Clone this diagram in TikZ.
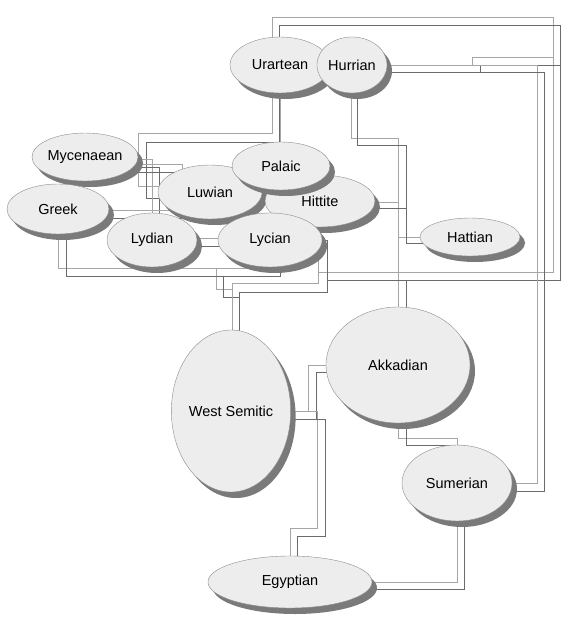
\documentclass[tikz,border=0pt]{standalone}
\usepackage{fontspec}
\setmainfont{Liberation Sans}
\usetikzlibrary{shapes.geometric,shadows}
\pgfdeclarelayer{wires}
\pgfsetlayers{wires,main}

\begin{document}
\begin{tikzpicture}[x=1pt,y=-1pt,
  lang/.style={ellipse,draw=black!45,fill=black!7,inner sep=0pt,
    font=\fontsize{14.5}{17}\selectfont,
    drop shadow={shadow xshift=5pt,shadow yshift=-6pt,fill=black!52,opacity=1}},
  wa/.style={draw=black!35,line width=0.8pt},
  wb/.style={draw=black!58,line width=0.8pt}]
\useasboundingbox (0,0) rectangle (570,630);

% Aegean and western Anatolia
\node[lang,minimum width=104pt,minimum height=48pt] (myc) at (85,157) {Mycenaean};
\node[lang,minimum width=102pt,minimum height=50pt] (grk) at (58,209) {Greek};

% Eastern Anatolia
\node[lang,minimum width=100pt,minimum height=56pt] (urt) at (280,65) {Urartean};
\node[lang,minimum width=70pt,minimum height=56pt] (hur) at (352,65) {Hurrian};

% Anatolian cluster
\node[lang,minimum width=104pt,minimum height=54pt] (luw) at (210,192) {Luwian};
\node[lang,minimum width=110pt,minimum height=52pt] (hit) at (320,201) {Hittite};
\node[lang,minimum width=98pt,minimum height=48pt] (pal) at (281,166) {Palaic};
\node[lang,minimum width=90pt,minimum height=54pt] (lyd) at (152,240) {Lydian};
\node[lang,minimum width=104pt,minimum height=54pt] (lyc) at (270,240) {Lycian};
\node[lang,minimum width=100pt,minimum height=38pt] (hat) at (470,237) {Hattian};

% Near East
\node[lang,minimum width=118pt,minimum height=162pt] (ws) at (231,411) {West Semitic};
\node[lang,minimum width=144pt,minimum height=116pt] (akk) at (398,365) {Akkadian};
\node[lang,minimum width=110pt,minimum height=76pt] (sum) at (457,483) {Sumerian};
\node[lang,minimum width=164pt,minimum height=52pt] (egy) at (290,582) {Egyptian};

\begin{pgfonlayer}{wires}
% Outer loop from Urartean and Hurrian to Lycian
\draw[wa] (urt.center) -| (272,17) -- (553,17) -- (553,272) -- (318,272) |- (lyc.center);
\draw[wb] (urt.center) -| (279,25) -- (560,25) -- (560,280) -- (327,280) |- (lyc.center);
\draw[wa] (hur.center) -| (472,57) -- (553,57) -- (553,272) -- (318,272) |- (lyc.center);
\draw[wb] ([yshift=-7pt]hur.center) -| (480,65) -- (560,65) -- (560,280) -- (327,280) |- (lyc.center);

% Hurrian to Sumerian
\draw[wa] (hur.center) -| (537,483) -- (sum.center);
\draw[wb] ([yshift=-7pt]hur.center) -| (544,491) -- ([yshift=-8pt]sum.center);

% Hurrian down to Akkadian and Hattian
\draw[wa] ([xshift=-1pt]hur.center) |- (398,138) -- (akk.center);
\draw[wb] ([xshift=5pt]hur.center) |- (406,145) |- ([yshift=-6pt]hat.center);

% Hittite to Hattian
\draw[wa] ([yshift=-1pt]hit.center) -| (398,237) -- (hat.center);
\draw[wb] ([yshift=-7pt]hit.center) -| (406,243) -- ([yshift=-6pt]hat.center);

% Akkadian up to Lycian
\draw[wa] (akk.center) |- (318,272) |- (lyc.center);
\draw[wb] ([xshift=8pt]akk.center) |- (327,280) |- (lyc.center);

% Urartean down to Palaic and Luwian
\draw[wa] (urt.center) |- (pal.center);
\draw[wa] ([xshift=-8pt]urt.center) |- (138,133) |- ([yshift=6pt]luw.center);
\draw[wb] ([xshift=-1pt]urt.center) |- (146,142) |- ([yshift=-6pt]luw.center);

% Mycenaean to Lydian
\draw[wa] ([yshift=-2pt]myc.center) -| (lyd.center);
\draw[wb] ([yshift=-10pt]myc.center) -| ([xshift=7pt]lyd.center);

% Greek to Mycenaean
\draw[wa] ([yshift=-1pt]grk.center) -| (182,164) -- ([yshift=-7pt]myc.center);
\draw[wb] ([yshift=-9pt]grk.center) -| (190,172) -- ([yshift=-15pt]myc.center);

% Greek to Lycian and West Semitic
\draw[wa] (grk.center) |- (272,268) |- (lyc.center);
\draw[wb] ([xshift=8pt]grk.center) |- (280,276) |- (lyc.center);
\draw[wa] (grk.center) |- (216,268) |- (232,289) |- (ws.center);
\draw[wb] ([xshift=8pt]grk.center) |- (223,276) |- (239,297) |- ([yshift=-8pt]ws.center);

% Lycian to West Semitic
\draw[wa] ([xshift=48pt]lyc.center) |- (232,283) |- (ws.center);
\draw[wb] ([xshift=57pt]lyc.center) |- (239,292) |- ([yshift=-8pt]ws.center);

% Lydian to Lycian
\draw[wa] ([yshift=2pt]lyd.center) -- ([yshift=2pt]lyc.center);
\draw[wb] ([yshift=-6pt]lyd.center) -- ([yshift=-6pt]lyc.center);

% Akkadian to West Semitic
\draw[wa] (akk.center) -| (308,411) -- (ws.center);
\draw[wb] ([yshift=-7pt]akk.center) -| (316,419) -- ([yshift=-8pt]ws.center);

% West Semitic to Egyptian
\draw[wa] (ws.center) -| (317,528) -| (egy.center);
\draw[wb] ([yshift=-8pt]ws.center) -| (325,536) -| ([xshift=7pt]egy.center);

% Akkadian to Sumerian, Sumerian to Egyptian
\draw[wa] (akk.center) |- (457,438) -- (sum.center);
\draw[wb] ([xshift=8pt]akk.center) |- (464,445) -- ([xshift=7pt]sum.center);
\draw[wa] (sum.center) |- (egy.center);
\draw[wb] ([xshift=7pt]sum.center) |- ([yshift=-7pt]egy.center);
\end{pgfonlayer}
\end{tikzpicture}
\end{document}
